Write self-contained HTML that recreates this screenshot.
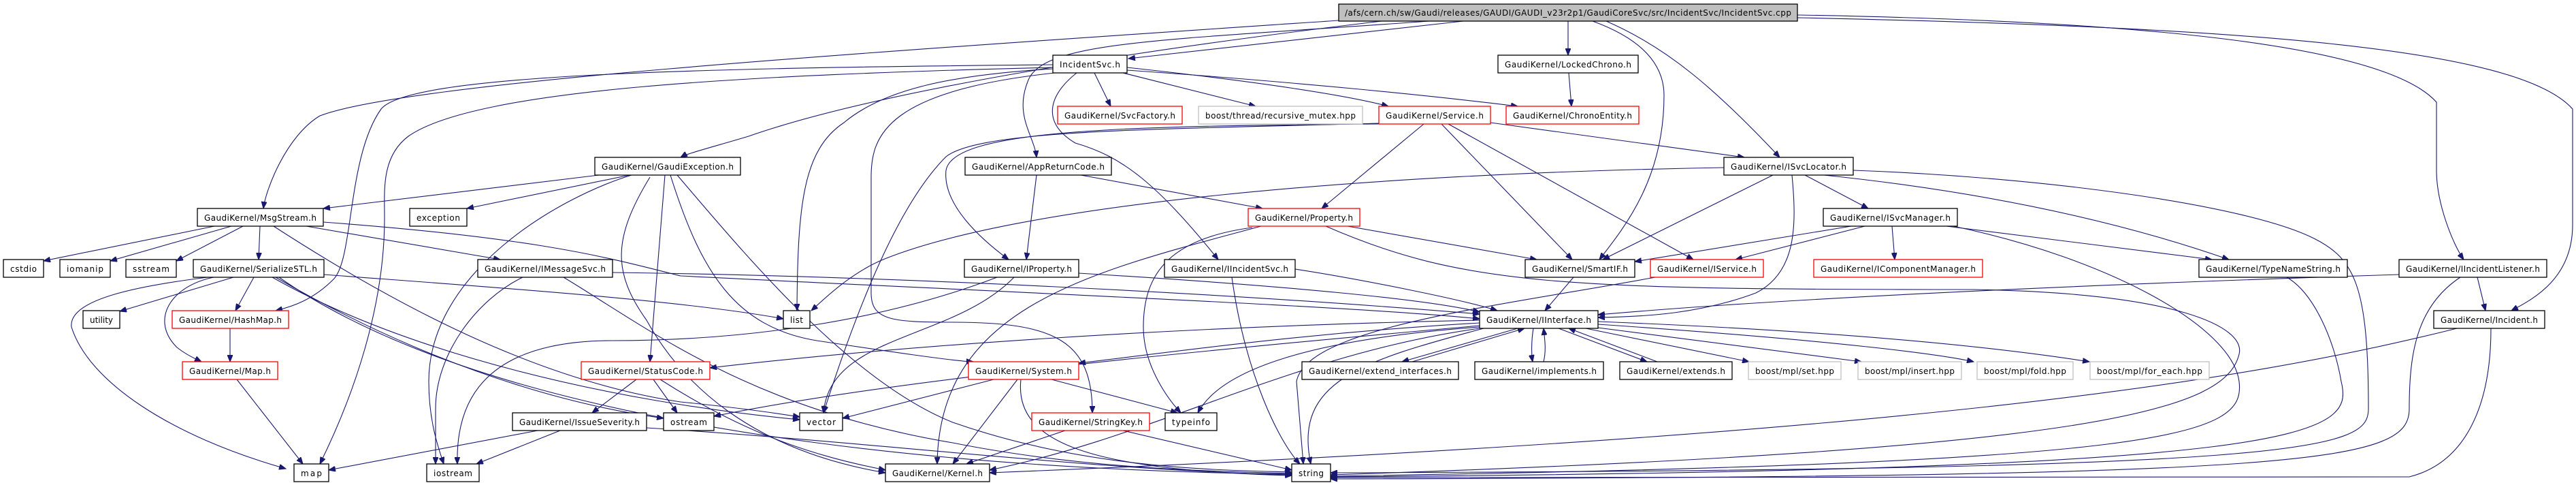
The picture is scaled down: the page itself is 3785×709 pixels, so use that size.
<!DOCTYPE html>
<html><head><meta charset="utf-8"><style>
html,body{margin:0;padding:0;background:#fff;}
svg{display:block;}
text{font-family:"DejaVu Sans","Liberation Sans",sans-serif;font-size:12px;fill:#000;}
.n rect{fill:#fff;stroke:#000;stroke-width:1.3;}
.r rect{fill:#fff;stroke:#f00;stroke-width:1.3;}
.g rect{fill:#fff;stroke:#bfbfbf;stroke-width:1.3;}
path.e{fill:none;stroke:#191970;stroke-width:1.1;marker-end:url(#a);}
</style></head><body>
<svg width="3785" height="709" viewBox="0 0 3785 709" xmlns="http://www.w3.org/2000/svg">
<defs><marker id="a" markerUnits="userSpaceOnUse" markerWidth="11" markerHeight="8" refX="10" refY="4" orient="auto"><path d="M0,0 L10,4 L0,8 z" fill="#191970" stroke="#191970"/></marker></defs>
<g>
<path class="e" d="M2150,31 L1658,86"/>
<path class="e" d="M2304,31 L2304,81"/>
<path class="e" d="M1967,30 C1300,75 600,120 470,170 C420,200 390,280 387,306"/>
<path class="e" d="M2030,31 C1700,70 1300,130 1100,200 C1050,215 1010,225 1000,231"/>
<path class="e" d="M2100,31 C1700,60 1530,60 1510,120 C1490,170 1520,200 1523,231"/>
<path class="e" d="M2340,31 C2420,60 2445,100 2445,140 C2445,260 2390,330 2350,381"/>
<path class="e" d="M2360,31 C2450,70 2520,130 2615,231"/>
<path class="e" d="M2641,22 C3100,30 3500,60 3580,150 L3580,250 C3580,300 3605,360 3620,381"/>
<path class="e" d="M2641,26 C3300,40 3700,70 3780,160 L3780,330 C3780,410 3720,440 3690,456"/>
<path class="e" d="M1608,107 L1632,156"/>
<path class="e" d="M1650,107 L1845,156"/>
<path class="e" d="M1656,99 C1850,120 1980,140 2040,156"/>
<path class="e" d="M1656,103 C1900,120 2100,140 2230,156"/>
<path class="e" d="M1547,101 C1400,110 1300,130 1240,180 C1180,220 1172,300 1171,456"/>
<path class="e" d="M1547,95 C1000,100 600,110 560,160 C510,230 520,380 490,410 C460,440 430,450 405,456"/>
<path class="e" d="M1547,99 C1100,110 700,130 600,200 C560,230 565,280 565,320 C565,450 520,580 470,681"/>
<path class="e" d="M1582,107 C1540,140 1530,180 1580,210 C1650,230 1700,270 1790,381"/>
<path class="e" d="M1570,105 C1300,130 1280,200 1280,260 L1280,430 C1280,470 1310,473 1400,473 C1550,473 1605,500 1605,606"/>
<path class="e" d="M2026,181 C1700,190 1440,190 1390,230 C1320,300 1260,450 1210,606"/>
<path class="e" d="M2092,182 L1942,306"/>
<path class="e" d="M2118,182 L2310,381"/>
<path class="e" d="M2128,182 L2488,381"/>
<path class="e" d="M2190,180 L2563,231"/>
<path class="e" d="M2026,182 C1650,185 1400,190 1390,250 C1385,300 1440,350 1482,381"/>
<path class="e" d="M2305,107 L2309,156"/>
<path class="e" d="M2605,257 L2355,381"/>
<path class="e" d="M2652,257 L2745,306"/>
<path class="e" d="M2680,257 C2900,280 3100,320 3275,381"/>
<path class="e" d="M2633,257 C2640,330 2640,400 2580,430 C2500,460 2420,465 2348,466"/>
<path class="e" d="M2533,246 C2000,255 1500,300 1300,380 C1250,400 1210,440 1192,456"/>
<path class="e" d="M2723,250 C3000,260 3300,300 3400,350 C3460,380 3480,420 3480,600 C3480,660 3400,690 1955,694"/>
<path class="e" d="M1523,257 L1508,381"/>
<path class="e" d="M1588,257 L1855,306"/>
<path class="e" d="M880,257 L475,306"/>
<path class="e" d="M925,257 L686,306"/>
<path class="e" d="M928,257 C820,290 630,400 630,560 C630,620 645,660 652,681"/>
<path class="e" d="M977,257 L955,531"/>
<path class="e" d="M985,257 C1030,400 1080,480 1200,500 C1300,515 1400,530 1430,531"/>
<path class="e" d="M995,257 C1100,380 1250,560 1400,620 C1600,690 1800,690 1898,693"/>
<path class="e" d="M955,260 C900,350 900,400 950,470 C1000,560 1100,660 1301,694"/>
<path class="e" d="M315,332 L64,383"/>
<path class="e" d="M340,332 L162,383"/>
<path class="e" d="M357,332 L259,383"/>
<path class="e" d="M382,332 L380,381"/>
<path class="e" d="M450,332 L735,381"/>
<path class="e" d="M402,332 C600,460 800,560 1000,590 C1100,600 1150,608 1175,612"/>
<path class="e" d="M475,326 C800,350 900,380 1000,405 C1500,430 2000,450 2174,468"/>
<path class="e" d="M476,403 C700,420 1000,440 1151,468"/>
<path class="e" d="M343,407 L176,457"/>
<path class="e" d="M373,407 L346,456"/>
<path class="e" d="M314,407 C250,420 220,470 260,510 C275,522 290,528 296,531"/>
<path class="e" d="M305,407 C200,420 100,440 105,480 C130,560 250,640 420,688"/>
<path class="e" d="M400,407 C600,520 900,590 1175,616"/>
<path class="e" d="M405,407 C600,520 800,590 975,614"/>
<path class="e" d="M410,407 C600,540 900,610 1200,650 C1500,690 1800,695 1898,696"/>
<path class="e" d="M338,482 L338,531"/>
<path class="e" d="M348,557 L445,681"/>
<path class="e" d="M900,400 C1300,405 1800,430 2174,461"/>
<path class="e" d="M768,407 C700,440 640,520 640,600 L640,681"/>
<path class="e" d="M828,407 C950,480 1100,600 1400,650 C1600,690 1800,692 1898,695"/>
<path class="e" d="M1980,332 L2258,381"/>
<path class="e" d="M1853,332 C1600,400 1380,450 1377,681"/>
<path class="e" d="M1840,334 C1720,350 1680,400 1680,480 C1680,540 1720,590 1735,606"/>
<path class="e" d="M1948,332 C2150,420 2300,425 2900,425 C3200,430 3300,480 3290,520 C3270,600 3100,660 1955,697"/>
<path class="e" d="M1585,401 C1900,420 2100,440 2174,458"/>
<path class="e" d="M1465,407 C1300,470 1100,500 900,500 C700,500 670,600 672,681"/>
<path class="e" d="M1490,407 C1400,500 1220,490 1210,606"/>
<path class="e" d="M1903,395 C2000,410 2150,440 2200,456"/>
<path class="e" d="M1810,407 C1830,550 1880,650 1910,681"/>
<path class="e" d="M2312,407 L2270,456"/>
<path class="e" d="M2432,407 C2200,450 1920,480 1905,560 L1915,681"/>
<path class="e" d="M2720,332 L2402,384"/>
<path class="e" d="M2740,332 L2550,381"/>
<path class="e" d="M2780,332 L2784,381"/>
<path class="e" d="M2860,332 L3250,381"/>
<path class="e" d="M2870,332 C3100,380 3280,480 3290,560 C3300,640 3200,680 1955,699"/>
<path class="e" d="M2174,470 C1700,480 1300,510 1043,540"/>
<path class="e" d="M2174,474 C1900,490 1700,520 1585,533"/>
<path class="e" d="M2174,478 C1700,520 1300,560 1049,611"/>
<path class="e" d="M2230,482 L2060,531"/>
<path class="e" d="M2075,531 L2240,482"/>
<path class="e" d="M2253,482 C2250,500 2250,520 2252,531"/>
<path class="e" d="M2268,531 C2272,515 2270,500 2268,482"/>
<path class="e" d="M2290,482 L2420,531"/>
<path class="e" d="M2435,531 L2305,482"/>
<path class="e" d="M2330,482 L2570,531"/>
<path class="e" d="M2340,480 L2735,531"/>
<path class="e" d="M2348,476 C2700,500 2850,520 2900,531"/>
<path class="e" d="M2348,472 C2800,490 3000,520 3070,531"/>
<path class="e" d="M2174,480 C1900,500 1790,550 1760,606"/>
<path class="e" d="M2174,482 C1900,520 1700,640 1454,690"/>
<path class="e" d="M2180,482 C2000,530 1900,560 1926,681"/>
<path class="e" d="M935,557 L870,606"/>
<path class="e" d="M960,557 L995,606"/>
<path class="e" d="M970,557 C1100,640 1200,670 1301,690"/>
<path class="e" d="M790,632 L483,690"/>
<path class="e" d="M823,632 L700,681"/>
<path class="e" d="M950,628 C1300,650 1600,690 1898,697"/>
<path class="e" d="M1460,557 L1238,614"/>
<path class="e" d="M1495,557 L1400,681"/>
<path class="e" d="M1545,557 L1730,606"/>
<path class="e" d="M1500,557 C1490,650 1600,690 1898,698"/>
<path class="e" d="M1565,632 L1420,681"/>
<path class="e" d="M1650,632 L1898,690"/>
<path class="e" d="M3360,407 C3400,430 3430,500 3440,560 C3460,640 3400,690 1955,700"/>
<path class="e" d="M3525,403 C3000,420 2600,440 2348,462"/>
<path class="e" d="M3640,407 L3652,456"/>
<path class="e" d="M3615,407 C3550,450 3540,520 3540,600 C3540,680 3400,700 1955,703"/>
<path class="e" d="M3610,482 C3300,560 2800,640 1454,694"/>
<path class="e" d="M3660,482 C3660,600 3620,680 3540,700 L1955,701"/>
</g>
<g class="n"><rect x="1967" y="6" width="674" height="25" style="fill:#bfbfbf"/><text x="1976" y="23" textLength="656">/afs/cern.ch/sw/Gaudi/releases/GAUDI/GAUDI_v23r2p1/GaudiCoreSvc/src/IncidentSvc/IncidentSvc.cpp</text></g>
<g class="n"><rect x="1547" y="81" width="109" height="26"/><text x="1557" y="99" textLength="89">IncidentSvc.h</text></g>
<g class="n"><rect x="2201" y="81" width="206" height="26"/><text x="2211" y="99" textLength="186">GaudiKernel/LockedChrono.h</text></g>
<g class="r"><rect x="1554" y="156" width="183" height="26"/><text x="1564" y="174" textLength="163">GaudiKernel/SvcFactory.h</text></g>
<g class="g"><rect x="1761" y="156" width="241" height="26"/><text x="1771" y="174" textLength="221">boost/thread/recursive_mutex.hpp</text></g>
<g class="r"><rect x="2026" y="156" width="164" height="26"/><text x="2036" y="174" textLength="144">GaudiKernel/Service.h</text></g>
<g class="r"><rect x="2213" y="156" width="195" height="26"/><text x="2223" y="174" textLength="175">GaudiKernel/ChronoEntity.h</text></g>
<g class="n"><rect x="874" y="231" width="214" height="26"/><text x="884" y="249" textLength="194">GaudiKernel/GaudiException.h</text></g>
<g class="n"><rect x="1418" y="231" width="215" height="26"/><text x="1428" y="249" textLength="195">GaudiKernel/AppReturnCode.h</text></g>
<g class="n"><rect x="2533" y="231" width="190" height="26"/><text x="2543" y="249" textLength="170">GaudiKernel/ISvcLocator.h</text></g>
<g class="n"><rect x="290" y="306" width="185" height="26"/><text x="300" y="324" textLength="165">GaudiKernel/MsgStream.h</text></g>
<g class="n"><rect x="602" y="306" width="84" height="26"/><text x="612" y="324" textLength="64">exception</text></g>
<g class="r"><rect x="1834" y="306" width="164" height="26"/><text x="1844" y="324" textLength="144">GaudiKernel/Property.h</text></g>
<g class="n"><rect x="2679" y="306" width="197" height="26"/><text x="2689" y="324" textLength="177">GaudiKernel/ISvcManager.h</text></g>
<g class="n"><rect x="5" y="381" width="59" height="26"/><text x="15" y="399" textLength="39">cstdio</text></g>
<g class="n"><rect x="88" y="381" width="74" height="26"/><text x="98" y="399" textLength="54">iomanip</text></g>
<g class="n"><rect x="185" y="381" width="74" height="26"/><text x="195" y="399" textLength="54">sstream</text></g>
<g class="n"><rect x="284" y="381" width="192" height="26"/><text x="294" y="399" textLength="172">GaudiKernel/SerializeSTL.h</text></g>
<g class="n"><rect x="702" y="381" width="198" height="26"/><text x="712" y="399" textLength="178">GaudiKernel/IMessageSvc.h</text></g>
<g class="n"><rect x="1417" y="381" width="168" height="26"/><text x="1427" y="399" textLength="148">GaudiKernel/IProperty.h</text></g>
<g class="n"><rect x="1711" y="381" width="192" height="26"/><text x="1721" y="399" textLength="172">GaudiKernel/IIncidentSvc.h</text></g>
<g class="n"><rect x="2241" y="381" width="161" height="26"/><text x="2251" y="399" textLength="141">GaudiKernel/SmartIF.h</text></g>
<g class="r"><rect x="2425" y="381" width="166" height="26"/><text x="2435" y="399" textLength="146">GaudiKernel/IService.h</text></g>
<g class="r"><rect x="2665" y="381" width="248" height="26"/><text x="2675" y="399" textLength="228">GaudiKernel/IComponentManager.h</text></g>
<g class="n"><rect x="3231" y="381" width="218" height="26"/><text x="3241" y="399" textLength="198">GaudiKernel/TypeNameString.h</text></g>
<g class="n"><rect x="3525" y="381" width="217" height="26"/><text x="3535" y="399" textLength="197">GaudiKernel/IIncidentListener.h</text></g>
<g class="n"><rect x="122" y="456" width="54" height="26"/><text x="132" y="474" textLength="34">utility</text></g>
<g class="r"><rect x="253" y="456" width="171" height="26"/><text x="263" y="474" textLength="151">GaudiKernel/HashMap.h</text></g>
<g class="n"><rect x="1151" y="456" width="39" height="26"/><text x="1161" y="474" textLength="19">list</text></g>
<g class="n"><rect x="2174" y="456" width="174" height="26"/><text x="2184" y="474" textLength="154">GaudiKernel/IInterface.h</text></g>
<g class="n"><rect x="3576" y="456" width="163" height="26"/><text x="3586" y="474" textLength="143">GaudiKernel/Incident.h</text></g>
<g class="r"><rect x="268" y="531" width="140" height="26"/><text x="278" y="549" textLength="120">GaudiKernel/Map.h</text></g>
<g class="r"><rect x="854" y="531" width="189" height="26"/><text x="864" y="549" textLength="169">GaudiKernel/StatusCode.h</text></g>
<g class="r"><rect x="1423" y="531" width="162" height="26"/><text x="1433" y="549" textLength="142">GaudiKernel/System.h</text></g>
<g class="n"><rect x="1913" y="531" width="230" height="26"/><text x="1923" y="549" textLength="210">GaudiKernel/extend_interfaces.h</text></g>
<g class="n"><rect x="2167" y="531" width="189" height="26"/><text x="2177" y="549" textLength="169">GaudiKernel/implements.h</text></g>
<g class="n"><rect x="2380" y="531" width="165" height="26"/><text x="2390" y="549" textLength="145">GaudiKernel/extends.h</text></g>
<g class="g"><rect x="2569" y="531" width="136" height="26"/><text x="2579" y="549" textLength="116">boost/mpl/set.hpp</text></g>
<g class="g"><rect x="2730" y="531" width="152" height="26"/><text x="2740" y="549" textLength="132">boost/mpl/insert.hpp</text></g>
<g class="g"><rect x="2905" y="531" width="141" height="26"/><text x="2915" y="549" textLength="121">boost/mpl/fold.hpp</text></g>
<g class="g"><rect x="3071" y="531" width="175" height="26"/><text x="3081" y="549" textLength="155">boost/mpl/for_each.hpp</text></g>
<g class="n"><rect x="753" y="606" width="197" height="26"/><text x="763" y="624" textLength="177">GaudiKernel/IssueSeverity.h</text></g>
<g class="n"><rect x="975" y="606" width="74" height="26"/><text x="985" y="624" textLength="54">ostream</text></g>
<g class="n"><rect x="1175" y="606" width="63" height="26"/><text x="1185" y="624" textLength="43">vector</text></g>
<g class="r"><rect x="1516" y="606" width="173" height="26"/><text x="1526" y="624" textLength="153">GaudiKernel/StringKey.h</text></g>
<g class="n"><rect x="1712" y="606" width="76" height="26"/><text x="1722" y="624" textLength="56">typeinfo</text></g>
<g class="n"><rect x="432" y="681" width="51" height="26"/><text x="442" y="699" textLength="31">map</text></g>
<g class="n"><rect x="627" y="681" width="77" height="26"/><text x="637" y="699" textLength="57">iostream</text></g>
<g class="n"><rect x="1301" y="681" width="153" height="26"/><text x="1311" y="699" textLength="133">GaudiKernel/Kernel.h</text></g>
<g class="n"><rect x="1898" y="681" width="57" height="26"/><text x="1908" y="699" textLength="37">string</text></g>
</svg>
</body></html>
